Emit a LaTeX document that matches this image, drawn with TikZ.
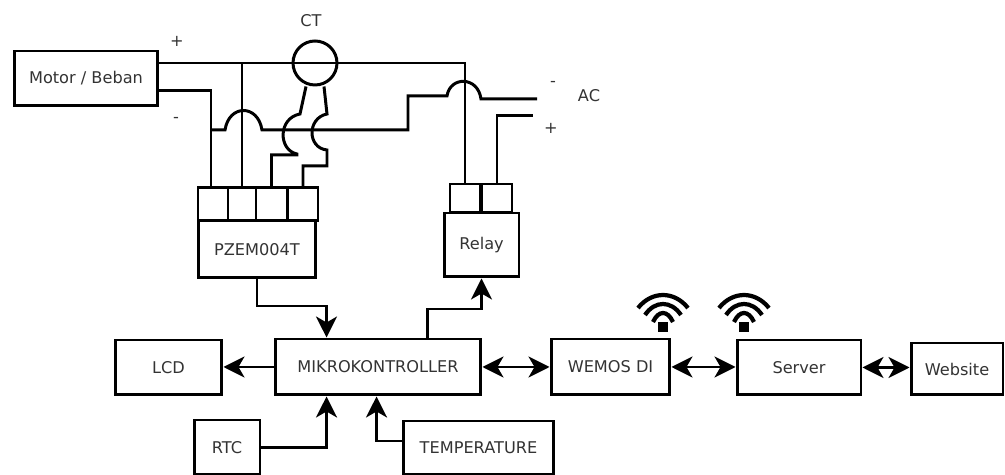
\documentclass[tikz,border=0pt]{standalone}
\usepackage{fontspec}
\setmainfont{DejaVu Sans}
\usetikzlibrary{arrows.meta, calc}

\tikzset{
  wire/.style={line width=1.7pt, line join=miter},
  flow/.style={wire, -{Stealth[length=0.42cm,width=0.42cm,inset=0.12cm]}},
  flowboth/.style={wire, {Stealth[length=0.42cm,width=0.42cm,inset=0.12cm]}-{Stealth[length=0.42cm,width=0.42cm,inset=0.12cm]}},
  blockbox/.style={draw, rectangle, line width=1.7pt, inner sep=0pt, text=black!80, font=\fontsize{9.2}{11}\selectfont},
  termbox/.style={draw, rectangle, line width=1.7pt, inner sep=0pt},
  tag/.style={text=black!80, inner sep=0pt, font=\fontsize{9.2}{11}\selectfont}
}

\begin{document}
\begin{tikzpicture}[x=0.02cm, y=-0.02cm]
\useasboundingbox (0,0) rectangle (1005,475);

% Top row
\node[blockbox, minimum width=2.88cm, minimum height=1.1cm] (motor) at (86,78.5) {Motor / Beban};
\node[draw, circle, line width=1.7pt, minimum size=0.88cm, inner sep=0pt] (ct) at (315,63) {};
\node[tag] (ctlabel) at (311,21) {CT};
\node[tag] (plusm) at (177,41) {+};
\node[tag] (minusm) at (176,120) {-};
\node[tag] (aclabel) at (589,96) {AC};
\node[tag] (minusac) at (553,84) {-};
\node[tag] (plusac) at (551,128) {+};

% PZEM and its terminals
\node[blockbox, minimum width=2.36cm, minimum height=1.14cm] (pzem) at (257,249.5) {PZEM004T};
\foreach \name/\x/\w in {pza/213/0.6cm, pzb/242/0.56cm, pzc/271.5/0.62cm, pzd/303/0.6cm} {
   \node[termbox, minimum width=\w, minimum height=0.66cm] (\name) at (\x,204) {};
}

% Relay and its terminals
\node[blockbox, minimum width=1.5cm, minimum height=1.28cm] (relay) at (481.5,245) {Relay};
\foreach \name/\x in {rla/465, rlb/497} {
   \node[termbox, minimum width=0.6cm, minimum height=0.58cm] (\name) at (\x,198.5) {};
}

% Bottom row
\node[blockbox, minimum width=2.14cm, minimum height=1.1cm] (lcd) at (168.5,367.5) {LCD};
\node[blockbox, minimum width=4.12cm, minimum height=1.12cm] (mcu) at (378,367) {MIKROKONTROLLER};
\node[blockbox, minimum width=2.38cm, minimum height=1.12cm] (wemos) at (610.5,367) {WEMOS DI};
\node[blockbox, minimum width=2.48cm, minimum height=1.1cm] (server) at (799,367.5) {Server};
\node[blockbox, minimum width=1.84cm, minimum height=1.04cm] (website) at (957,369) {Website};
\node[blockbox, minimum width=1.32cm, minimum height=1.1cm] (rtc) at (227,447.5) {RTC};
\node[blockbox, minimum width=3.02cm, minimum height=1.08cm] (temp) at (478.5,448) {TEMPERATURE};

% Wires from the load
\coordinate (tap) at (242,63);
\coordinate (bendm) at (211,130);
\coordinate (bendr) at (408,130);
\draw[wire] ([yshift=0.31cm]motor.east) -| (rla.north);
\draw[wire] ([yshift=-0.25cm]motor.east) -| ([xshift=-0.04cm]pza.north);
\draw[wire] (tap) -- (pzb.north);

% Line with its jumps, out to AC
\coordinate (acminus) at (537,99);
\coordinate (acplus) at (533,116);
\draw[wire] (bendm) -- (225,130) .. controls (229,104) and (258,104) .. (262,130) -- (bendr) -- (408,96) -- (447,96)
   .. controls (450,76) and (478,76) .. (481,99) -- (acminus);
\draw[wire] (rlb.north) |- (acplus);

% CT leads
\draw[wire] ([xshift=-0.18cm]ct.south) -- (300,114) .. controls (278,118) and (278,150) .. (297,154) -- (297,155) -| (pzc.north);
\draw[wire] ([xshift=0.18cm]ct.south) -- (327,114) .. controls (307,118) and (307,148) .. (327,150) -- (327,166) -| (pzd.north);

% Arrows
\coordinate (mcutopa) at ($(mcu.north west)+(53,0)$);
\coordinate (mcutopb) at ($(mcu.north west)+(154,0)$);
\coordinate (mcubota) at ($(mcu.south west)+(53,0)$);
\coordinate (mcubotb) at ($(mcu.south west)+(103,0)$);
\draw[flow] (pzem.south) -- (pzem.south |- 0,306) -| (mcutopa);
\draw[flow] (mcutopb) -- (mcutopb |- 0,309) -| (relay.south);
\draw[flow] (mcu.west) -- (mcu.west -| lcd.east);
\draw[flow] (rtc.east) -| (mcubota);
\draw[flow] ([yshift=0.14cm]temp.west) -| (mcubotb);
\draw[flowboth] (mcu.east) -- (wemos.west);
\draw[flowboth] (wemos.east) -- (wemos.east -| server.west);
\draw[flowboth] (server.east) -- (server.east -| website.west);

% Wifi signs
\foreach \name/\x in {wifia/663, wifib/744} {
   \node[fill=black, rectangle, minimum size=0.19cm, inner sep=0pt] (\name) at (\x,327) {};
   \foreach \dx/\dy/\c in {10/5/17, 18/12/26.7, 25/19/36.3} {
      \draw[line width=2.4pt] ($(\name)+(-\dx,-\dy)$) .. controls ($(\name)+(-0.45*\dx,-\c)$) and ($(\name)+(0.45*\dx,-\c)$) .. ($(\name)+(\dx,-\dy)$);
   }
}
\end{tikzpicture}
\end{document}
